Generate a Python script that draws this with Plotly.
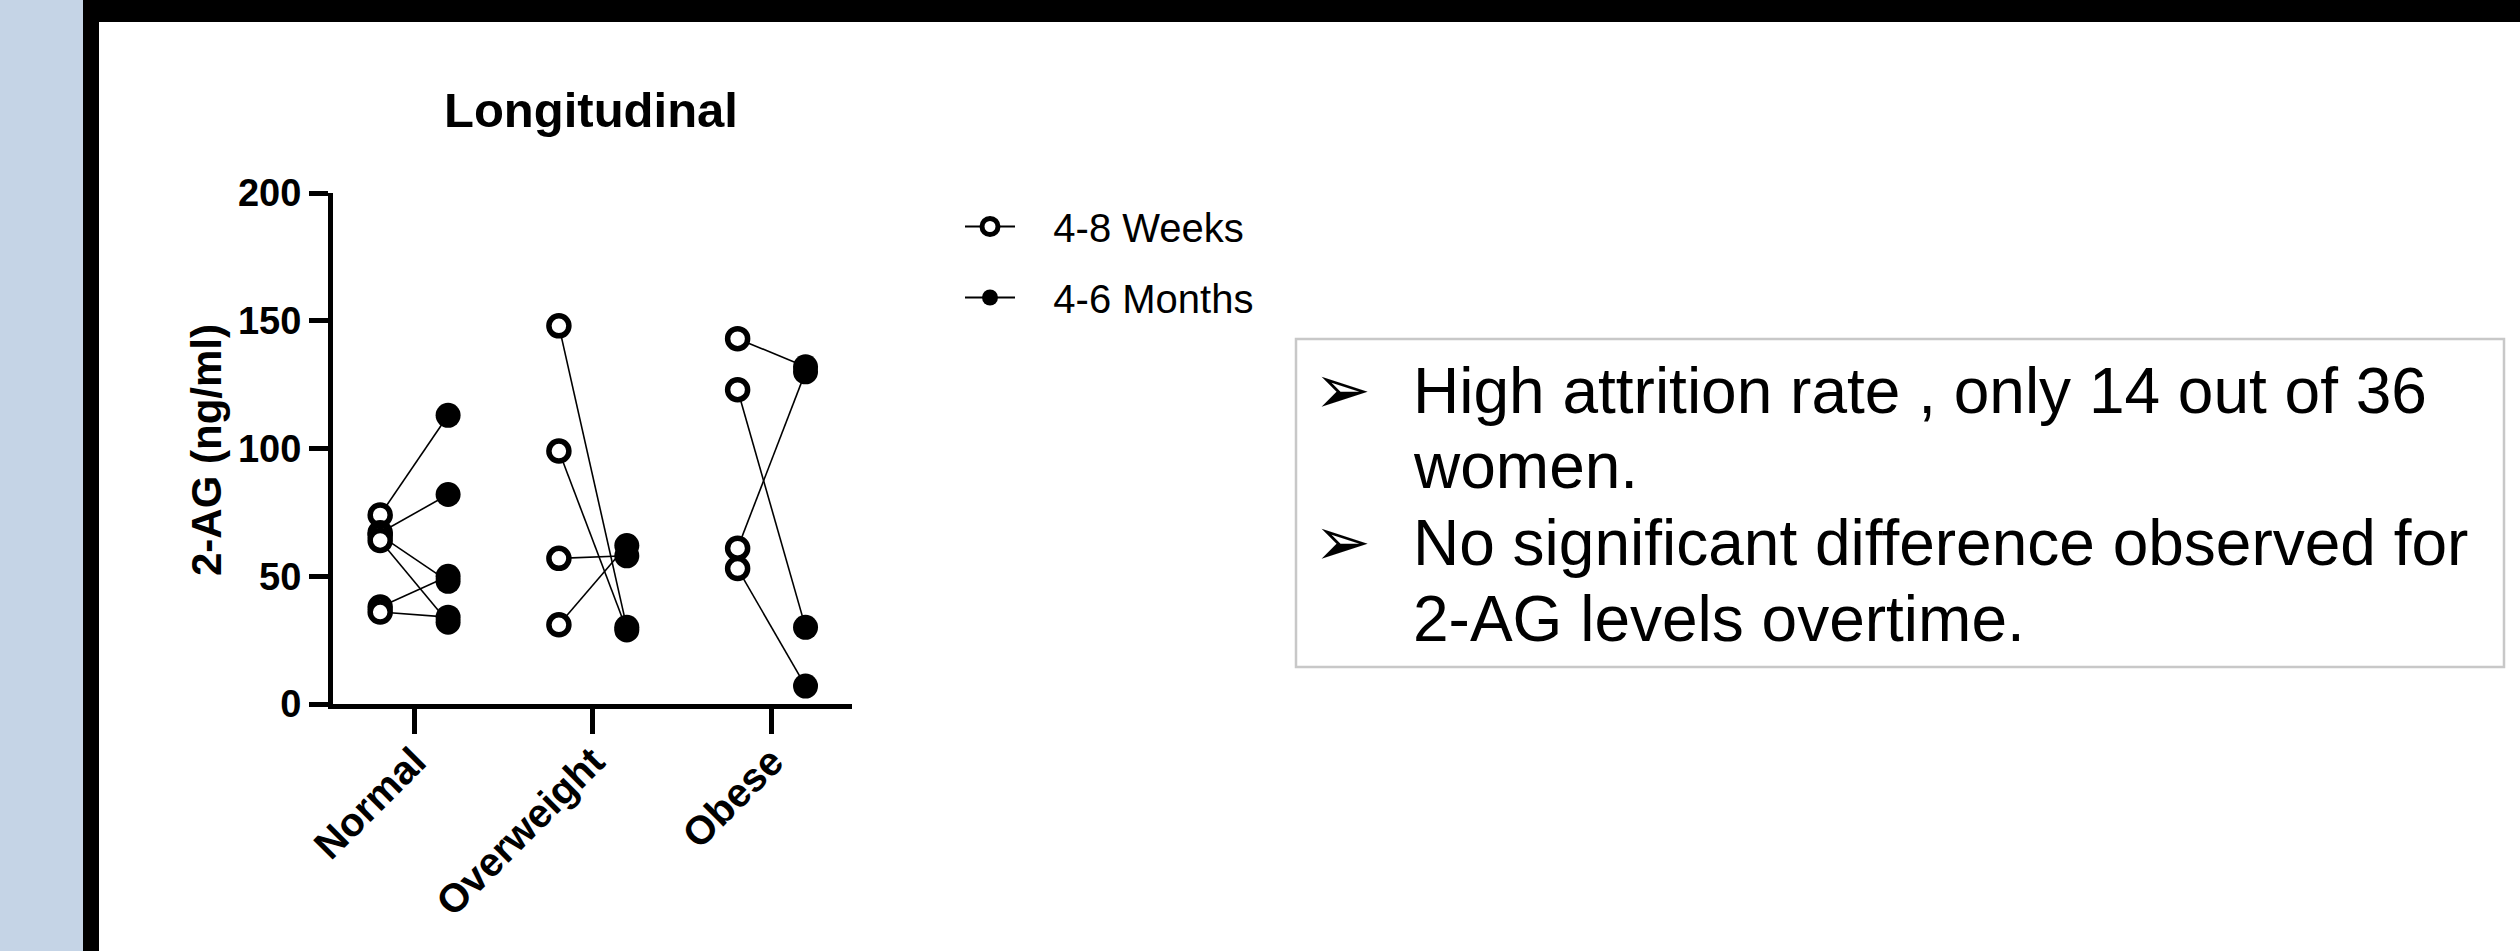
import plotly.graph_objects as go

# ---------------- data ----------------
categories = ["Normal", "Overweight", "Obese"]
group_of_subject = [0, 0, 0, 0, 0, 0, 1, 1, 1, 1, 2, 2, 2, 2]
weeks_4_8 = [74, 67, 66, 64, 38, 36, 148, 99, 57, 31, 143, 123, 61, 53]
months_4_6 = [113, 82, 48, 32, 50, 34, 30, 29, 58, 62, 132, 30, 130, 7]
y_ticks = [0, 50, 100, 150, 200]
series_names = ["4-8 Weeks", "4-6 Months"]
title_text = "Longitudinal"
y_title = "2-AG (ng/ml)"
bullet_lines = [
    ("High attrition rate , only 14 out of 36", "women."),
    ("No significant difference observed for", "2-AG levels overtime."),
]

# ---------------- geometry ----------------
W, H = 2520, 951
OFF = 0.19
FONT = "Liberation Sans, Arial, sans-serif"
GAP = "&nbsp;&nbsp;&nbsp;"


def px(x):
    return x / W


def py(y):
    return 1 - y / H


x_open = [g - OFF for g in group_of_subject]
x_fill = [g + OFF for g in group_of_subject]

seg_x, seg_y = [], []
for xo, xf, a, b in zip(x_open, x_fill, weeks_4_8, months_4_6):
    seg_x += [xo, xf, None]
    seg_y += [a, b, None]

fig = go.Figure()
fig.add_trace(go.Scatter(x=seg_x, y=seg_y, mode="lines",
                         line=dict(color="black", width=1.6),
                         showlegend=False, hoverinfo="skip"))
fig.add_trace(go.Scatter(x=x_open, y=weeks_4_8, mode="markers",
                         marker=dict(symbol="circle", size=20, color="white",
                                     line=dict(color="black", width=5.5)),
                         showlegend=False))
fig.add_trace(go.Scatter(x=x_fill, y=months_4_6, mode="markers",
                         marker=dict(symbol="circle", size=25, color="black",
                                     line=dict(color="black", width=0)),
                         showlegend=False))
# legend entries
fig.add_trace(go.Scatter(x=[None], y=[None], mode="lines+markers", name=GAP + series_names[0],
                         legendgroup="a",
                         line=dict(color="black", width=1.8),
                         marker=dict(symbol="circle", size=16, color="white",
                                     line=dict(color="black", width=5))))
fig.add_trace(go.Scatter(x=[None], y=[None], mode="lines+markers", name=GAP + series_names[1],
                         legendgroup="b",
                         line=dict(color="black", width=1.8),
                         marker=dict(symbol="circle", size=16, color="black")))

shapes = [
    dict(type="rect", xref="paper", yref="paper", x0=0, x1=px(83), y0=0, y1=1,
         fillcolor="#c5d4e6", line=dict(width=0), layer="below"),
    dict(type="rect", xref="paper", yref="paper", x0=px(83), x1=px(99), y0=0, y1=1,
         fillcolor="black", line=dict(width=0), layer="below"),
    dict(type="rect", xref="paper", yref="paper", x0=px(83), x1=1, y0=py(22), y1=1,
         fillcolor="black", line=dict(width=0), layer="below"),
    dict(type="rect", xref="paper", yref="paper", x0=px(1296), x1=px(2504),
         y0=py(667), y1=py(339), fillcolor="rgba(0,0,0,0)",
         line=dict(color="#c8c8c8", width=2.5)),
]

annotations = [
    dict(text=title_text, x=px(591), y=py(110), xref="paper", yref="paper",
         showarrow=False, xanchor="center", yanchor="middle",
         font=dict(family=FONT, size=49, color="black", weight="bold")),
    dict(text=y_title, x=px(207), y=py(450), xref="paper", yref="paper",
         showarrow=False, xanchor="center", yanchor="middle", textangle=-90,
         font=dict(family=FONT, size=42, color="black", weight="bold")),
]

line_y = [391, 466, 543, 619]
k = 0
for first, second in bullet_lines:
    annotations.append(dict(text="\u27A2", x=px(1312), y=py(line_y[k] - 2), xref="paper", yref="paper",
                            showarrow=False, xanchor="left", yanchor="middle",
                            font=dict(family="DejaVu Sans", size=68, color="black")))
    for t in (first, second):
        annotations.append(dict(text=t, x=px(1411), y=py(line_y[k]), xref="paper", yref="paper",
                                showarrow=False, xanchor="left", yanchor="middle",
                                font=dict(family=FONT, size=64, color="black")))
        k += 1

fig.update_layout(
    width=W, height=H,
    margin=dict(l=0, r=0, t=0, b=0),
    paper_bgcolor="white", plot_bgcolor="white",
    shapes=shapes, annotations=annotations,
    showlegend=True,
    legend=dict(x=px(960), y=py(194), xanchor="left", yanchor="top",
                font=dict(family=FONT, size=40, color="black"),
                traceorder="grouped", tracegroupgap=16, itemwidth=50,
                bgcolor="rgba(0,0,0,0)", itemsizing="trace"),
    xaxis=dict(domain=[px(333), px(852)], range=[-0.454, 2.45],
               tickmode="array", tickvals=list(range(len(categories))), ticktext=categories,
               tickangle=-45, ticks="outside", ticklen=25, tickwidth=5, tickcolor="black",
               ticklabelstandoff=-12,
               showline=True, linecolor="black", linewidth=5,
               showgrid=False, zeroline=False, automargin=False,
               tickfont=dict(family=FONT, size=40, color="black", weight="bold")),
    yaxis=dict(domain=[py(704), py(193)], range=[0, 200],
               tickmode="array", tickvals=y_ticks,
               ticks="outside", ticklen=19, tickwidth=5, tickcolor="black",
               showline=True, linecolor="black", linewidth=5,
               showgrid=False, zeroline=False, automargin=False,
               tickfont=dict(family=FONT, size=38, color="black", weight="bold")),
)

fig.write_html("out.html", config={"displayModeBar": False},
               post_script="document.body.style.margin='0';document.body.style.overflow='hidden';")
